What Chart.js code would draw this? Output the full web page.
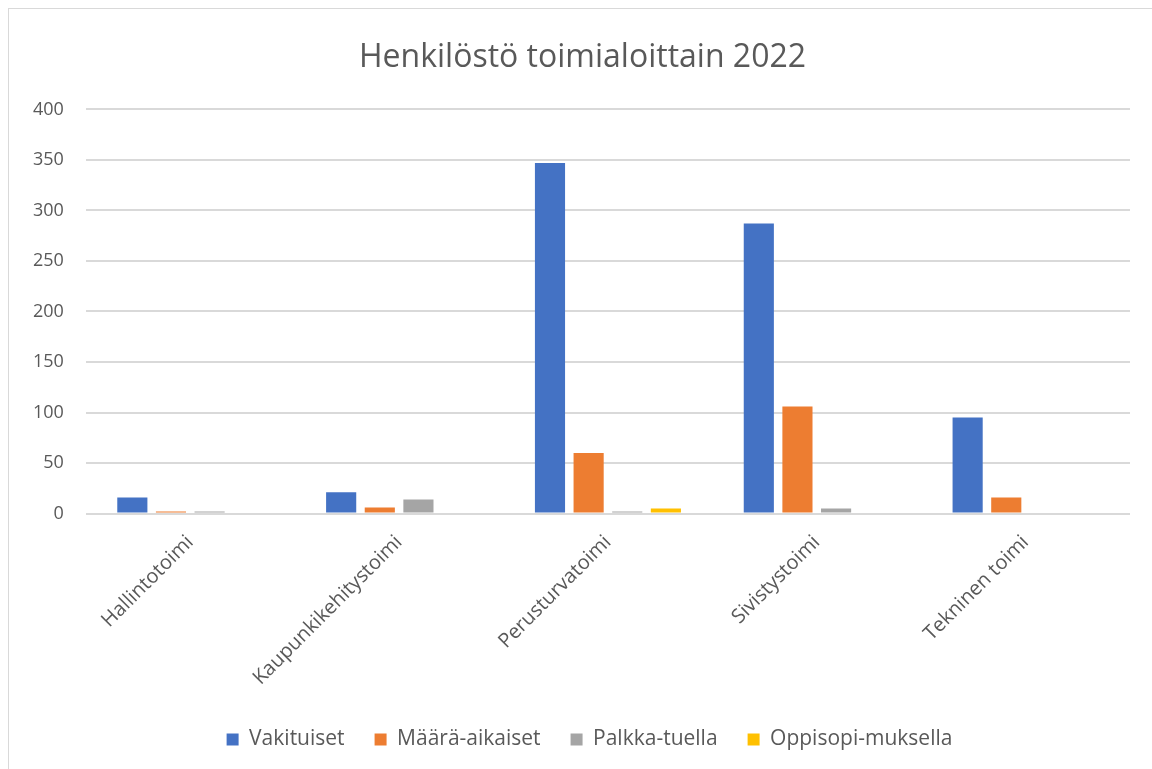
<!DOCTYPE html>
<html>
<head>
<meta charset="utf-8">
<script src="https://cdn.jsdelivr.net/npm/chart.js@4.4.0/dist/chart.umd.min.js"></script>
<style>
    html, body { margin: 0; padding: 0; background: #fff; }
    #wrap {
        position: absolute;
        left: 8px;
        top: 8px;
        width: 1150px;
        height: 767px;
        border: 1px solid #d9d9d9;
        box-sizing: border-box;
    }
</style>
</head>
<body>
<div id="wrap"><canvas id="chart"></canvas></div>
<script>
const categories = ['Hallintotoimi', 'Kaupunkikehitystoimi', 'Perusturvatoimi', 'Sivistystoimi', 'Tekninen toimi'];
const vakituiset = [16, 21, 347, 287, 95];
const maaraAikaiset = [2, 6, 60, 106, 16];
const palkkaTuella = [2, 14, 2, 5, 0];
const oppisopimuksella = [0, 0, 5, 0, 0];

const font = "'Open Sans', sans-serif";
const textColor = '#595959';

function makeSet(label, data, color) {
    return {
        label: label,
        data: data,
        backgroundColor: color,
        borderWidth: 0,
        categoryPercentage: 0.74,
        barPercentage: 0.78
    };
}

// title and legend are centred on the whole frame in the original, not on the padded area
const shiftBoxes = {
    id: 'shiftBoxes',
    afterLayout(chart) {
        chart.titleBlock.left += 12;
        chart.titleBlock.right += 12;
        chart.legend.left += 19;
        chart.legend.right += 19;
    }
};

new Chart(document.getElementById('chart'), {
    type: 'bar',
    data: {
        labels: categories,
        datasets: [
            makeSet('Vakituiset', vakituiset, '#4472c4'),
            makeSet('Määrä-aikaiset', maaraAikaiset, '#ed7d31'),
            makeSet('Palkka-tuella', palkkaTuella, '#a5a5a5'),
            makeSet('Oppisopi-muksella', oppisopimuksella, '#ffc000')
        ]
    },
    plugins: [shiftBoxes],
    options: {
        responsive: true,
        maintainAspectRatio: false,
        animation: false,
        layout: { padding: { left: 2, right: 27, top: 24, bottom: 14 } },
        plugins: {
            title: {
                display: true,
                text: 'Henkilöstö toimialoittain 2022',
                color: textColor,
                font: { family: font, size: 32, weight: 'normal' },
                padding: { top: 6, bottom: 32 }
            },
            legend: {
                position: 'bottom',
                labels: {
                    color: textColor,
                    font: { family: font, size: 21 },
                    boxWidth: 12,
                    boxHeight: 12,
                    padding: 30
                }
            },
            tooltip: { enabled: false }
        },
        scales: {
            x: {
                grid: { display: false },
                border: { display: false },
                ticks: {
                    color: textColor,
                    font: { family: font, size: 20 },
                    maxRotation: 45,
                    minRotation: 45,
                    padding: 9
                }
            },
            y: {
                min: 0,
                max: 400,
                grid: { color: '#d9d9d9', lineWidth: 2, drawTicks: false },
                border: { display: false },
                ticks: {
                    stepSize: 50,
                    color: textColor,
                    font: { family: font, size: 18 },
                    padding: 22
                }
            }
        }
    }
});
</script>
</body>
</html>
